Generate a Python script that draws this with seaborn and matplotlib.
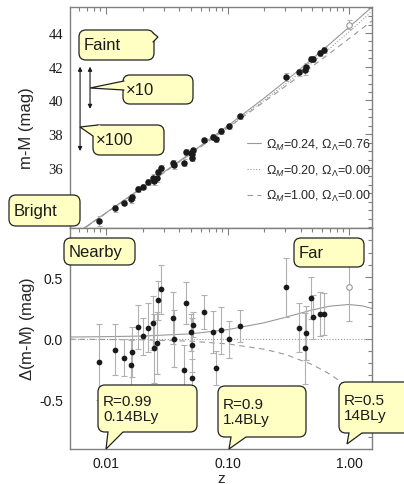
import numpy as np
import pandas as pd
import matplotlib
matplotlib.use("Agg")
import matplotlib.pyplot as plt
import seaborn as sns
from matplotlib.patches import FancyBboxPatch, Polygon
from matplotlib.ticker import MultipleLocator, LogLocator, FixedLocator, FuncFormatter, NullFormatter

# ---------------- data ----------------
z_sn = [0.00881, 0.01186, 0.01415, 0.01606, 0.01628, 0.01823, 0.02028, 0.02229,
        0.02436, 0.02497, 0.02629, 0.02664, 0.02820, 0.03580, 0.03628, 0.04385,
        0.04553, 0.04960, 0.05072, 0.05102, 0.05200, 0.06453, 0.07553, 0.08087,
        0.08840, 0.1029, 0.1260, 0.3030, 0.3855, 0.4318, 0.4452, 0.4840,
        0.5083, 0.5771, 0.6261]
mu_sn = [32.86, 33.61, 33.93, 34.15, 34.28, 34.74, 34.89, 35.17,
         35.41, 35.25, 35.41, 35.78, 36.00, 36.29, 36.15, 36.32,
         36.95, 36.90, 36.85, 36.58, 37.06, 37.65, 37.84, 37.70,
         38.20, 38.47, 39.05, 41.41, 41.67, 41.79, 41.99, 42.48,
         42.45, 42.80, 43.01]
dmu_sn = [-0.19, -0.09, -0.155, -0.215, -0.11, 0.095, 0.017, 0.086,
          0.13, -0.08, -0.037, 0.31, 0.40, 0.167, 0.0, -0.254,
          0.29, 0.05, -0.05, -0.325, 0.113, 0.216, 0.054, -0.238,
          0.067, -0.008, 0.105, 0.416, 0.089, -0.081, 0.045, 0.33,
          0.173, 0.197, 0.197]
err_sn = [0.31, 0.21, 0.15, 0.20, 0.20, 0.18, 0.15, 0.20,
          0.22, 0.28, 0.25, 0.16, 0.20, 0.21, 0.23, 0.20,
          0.17, 0.15, 0.22, 0.16, 0.10, 0.14, 0.17, 0.14,
          0.19, 0.15, 0.13, 0.24, 0.20, 0.29, 0.22, 0.17,
          0.18, 0.18, 0.17]

# open symbol (high-z point)
z_open = [1.0]
mu_open = [44.49]
dmu_open = [0.42]
err_open = [0.28]

# model curves
z_model = [0.005, 0.01, 0.02, 0.05, 0.1, 0.2, 0.3, 0.5, 0.7, 1.0, 1.3, 1.55]
mu_lcdm = [31.832, 33.345, 34.865, 36.901, 38.487, 40.137, 41.146, 42.470, 43.370, 44.343, 45.063, 45.545]
mu_open_model = [31.820, 33.330, 34.845, 36.863, 38.415, 40.009, 40.973, 42.237, 43.106, 44.066, 44.798, 45.301]
mu_eds = [31.814, 33.322, 34.834, 36.841, 38.371, 39.922, 40.843, 42.024, 42.814, 43.664, 44.295, 44.721]
d_lcdm = [0.012, 0.015, 0.020, 0.038, 0.072, 0.128, 0.173, 0.233, 0.264, 0.277, 0.265, 0.244]
d_open_model = [0.0] * 12
d_eds = [-0.006, -0.008, -0.011, -0.022, -0.044, -0.087, -0.130, -0.213, -0.292, -0.402, -0.503, -0.580]

model_labels = [r"$\Omega_M$=0.24, $\Omega_\Lambda$=0.76",
                r"$\Omega_M$=0.20, $\Omega_\Lambda$=0.00",
                r"$\Omega_M$=1.00, $\Omega_\Lambda$=0.00"]
xtick_vals = [0.01, 0.1, 1.0]
ytick_top = [36, 38, 40, 42, 44]

# ---------------- style ----------------
sns.set_theme(style="white")
plt.rcParams["font.family"] = ["Liberation Sans", "DejaVu Sans"]
plt.rcParams["axes.unicode_minus"] = False
plt.rcParams["mathtext.fontset"] = "custom"
plt.rcParams["mathtext.rm"] = "Liberation Sans"
plt.rcParams["mathtext.it"] = "Liberation Sans:italic"
plt.rcParams["mathtext.bf"] = "Liberation Sans:bold"

GRAY = "#999999"
EGRAY = "#b0b0b0"
SPINE = "#808080"
YELLOW = "#ffffc4"

fig = plt.figure(figsize=(4.04, 4.85), dpi=100)
ax1 = fig.add_axes([0.1733, 0.5278, 0.7475, 0.4551])
ax2 = fig.add_axes([0.1733, 0.0722, 0.7475, 0.4556], sharex=ax1)

styles = ["-", (0, (1, 1.6)), (0, (5, 4))]
top_models = [mu_lcdm, mu_open_model, mu_eds]
bot_models = [d_lcdm, d_open_model, d_eds]

for ax in (ax1, ax2):
    ax.set_xscale("log")

for ys, ls, lab in zip(top_models, styles, model_labels):
    sns.lineplot(x=z_model, y=ys, ax=ax1, color=GRAY, lw=0.8, linestyle=ls,
                 label=lab, sort=False, zorder=1)
for ys, ls in zip(bot_models, styles):
    sns.lineplot(x=z_model, y=ys, ax=ax2, color=GRAY, lw=0.8, linestyle=ls,
                 sort=False, zorder=1, legend=False)

# error bars + points
ax1.errorbar(z_sn, mu_sn, yerr=err_sn, fmt="none", ecolor=EGRAY, elinewidth=0.7,
             capsize=1.8, capthick=0.7, zorder=2)
ax2.errorbar(z_sn, dmu_sn, yerr=err_sn, fmt="none", ecolor=EGRAY, elinewidth=0.8,
             capsize=2.0, capthick=0.8, zorder=2)
sns.scatterplot(x=z_sn, y=mu_sn, ax=ax1, color="k", s=22, linewidth=0, zorder=3)
sns.scatterplot(x=z_sn, y=dmu_sn, ax=ax2, color="k", s=17, linewidth=0, zorder=3)
ax1.errorbar(z_open, mu_open, yerr=err_open, fmt="o", mfc="white", mec=GRAY, ms=4,
             mew=0.8, ecolor=EGRAY, elinewidth=0.7, capsize=1.8, capthick=0.7, zorder=3)
ax2.errorbar(z_open, dmu_open, yerr=err_open, fmt="o", mfc="white", mec=GRAY, ms=4,
             mew=0.8, ecolor=EGRAY, elinewidth=0.8, capsize=2.0, capthick=0.8, zorder=3)

# limits & ticks
ax1.set_xlim(0.00505, 1.546)
ax1.set_ylim(32.44, 45.52)
ax2.set_ylim(-0.9, 0.9)

for ax in (ax1, ax2):
    for sp in ax.spines.values():
        sp.set_color(SPINE)
        sp.set_linewidth(1.0)
    ax.tick_params(which="both", direction="in", top=True, right=True,
                   color=SPINE, labelcolor="k", width=0.8)
    ax.tick_params(which="major", length=5)
    ax.tick_params(which="minor", length=3)
    ax.xaxis.set_major_locator(FixedLocator(xtick_vals))
    ax.xaxis.set_minor_locator(LogLocator(base=10, subs=np.arange(2, 10)))
    ax.xaxis.set_minor_formatter(NullFormatter())
    ax.grid(False)

ax1.yaxis.set_major_locator(FixedLocator(ytick_top))
ax1.yaxis.set_minor_locator(MultipleLocator(0.5))
ax1.tick_params(axis="x", labelbottom=False)
ax1.tick_params(axis="y", labelsize=10.5, pad=5, labelfontfamily="Liberation Serif")

ax2.yaxis.set_major_locator(MultipleLocator(0.5))
ax2.yaxis.set_minor_locator(MultipleLocator(0.1))
ax2.yaxis.set_major_formatter(FuncFormatter(lambda v, p: f"{v:.1f}"))
ax2.xaxis.set_major_formatter(FuncFormatter(lambda v, p: f"{v:.2f}"))
ax2.tick_params(axis="y", labelsize=10, pad=5)
ax2.tick_params(axis="x", labelsize=10, pad=5)

ax1.set_ylabel("m-M (mag)", fontsize=12)
ax1.yaxis.set_label_coords(-0.12, 0.458)
ax2.set_ylabel(r"$\Delta$(m-M) (mag)", fontsize=12)
ax2.yaxis.set_label_coords(-0.11, 0.547)
ax2.set_xlabel("z", fontsize=11, labelpad=1)
ax1.set_xlabel("")

leg = ax1.legend(loc="upper left", bbox_to_anchor=(0.586, 0.413), frameon=False,
                 fontsize=9, handlelength=1.1, handletextpad=0.45, labelspacing=0.85,
                 borderpad=0, borderaxespad=0)

# magnitude arrows
arrow_kw = dict(arrowstyle="<|-|>", color="k", lw=0.8, mutation_scale=6,
                shrinkA=0, shrinkB=0)
ax1.annotate("", xy=(0.00611, 37.0), xytext=(0.00611, 42.0), arrowprops=arrow_kw)
ax1.annotate("", xy=(0.00738, 39.5), xytext=(0.00738, 42.0), arrowprops=arrow_kw)

# ---------------- callouts (overlay in pixel coordinates) ----------------
ov = fig.add_axes([0, 0, 1, 1], zorder=10)
ov.set_xlim(0, 404)
ov.set_ylim(485, 0)
ov.axis("off")
ov.patch.set_alpha(0)


def callout(x0, y0, x1, y1, text, fs, tip=None, base=None, tx=None):
    box = FancyBboxPatch((x0, y0), x1 - x0, y1 - y0,
                         boxstyle="round,pad=0,rounding_size=7",
                         fc=YELLOW, ec="#222222", lw=0.9, zorder=2)
    ov.add_patch(box)
    if tip is not None:
        (bx0, by0), (bx1, by1) = base
        mx, my = (bx0 + bx1) / 2, (by0 + by1) / 2
        dx, dy = mx - tip[0], my - tip[1]
        n = np.hypot(dx, dy)
        ux, uy = dx / n * 2.5, dy / n * 2.5
        tri = Polygon([(bx0 + ux, by0 + uy), (bx0, by0), tip, (bx1, by1),
                       (bx1 + ux, by1 + uy)], closed=True, fc=YELLOW, ec="none",
                      zorder=3)
        ov.add_patch(tri)
        ov.plot([bx0, tip[0], bx1], [by0, tip[1], by1], color="#222222", lw=0.9,
                zorder=4, solid_joinstyle="miter")
    ov.text(x0 + (tx if tx is not None else 5), (y0 + y1) / 2, text, ha="left",
            va="center", fontsize=fs, zorder=5, linespacing=1.15, color="k")


callout(79, 31, 154, 61, "Faint", 12, tip=(158, 38), base=[(153, 34), (153, 43)])
callout(123, 76, 193, 105, "\u00d710", 12, tip=(90, 89), base=[(124, 82), (124, 91)], tx=3)
callout(93, 126, 164, 156, "\u00d7100", 12, tip=(80, 128), base=[(98, 126), (93, 137)], tx=3)
callout(9, 196, 80, 227, "Bright", 12)
callout(64, 239, 135, 266, "Nearby", 12)
callout(294, 239, 364, 268, "Far", 12)
callout(98, 386, 197, 433, "R=0.99\n0.14BLy", 11, tip=(106, 450), base=[(108, 433), (123, 433)])
callout(218, 387, 306, 438, "R=0.9\n1.4BLy", 11, tip=(229, 450), base=[(231, 438), (246, 438)])
callout(339, 383, 412, 434, "R=0.5\n14BLy", 11, tip=(347, 445), base=[(349, 434), (362, 434)])

fig.savefig("out.png", dpi=100)
